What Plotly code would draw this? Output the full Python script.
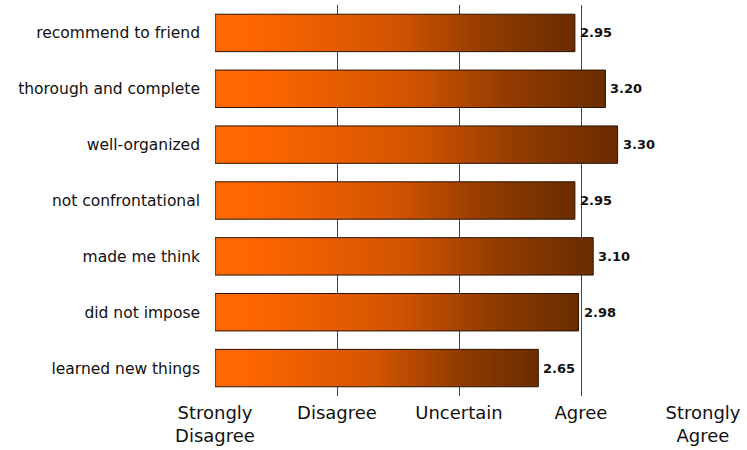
import plotly.graph_objects as go

# Survey items (top to bottom) and their mean ratings on a 0-4 agreement scale
items = [
    "recommend to friend",
    "thorough and complete",
    "well-organized",
    "not confrontational",
    "made me think",
    "did not impose",
    "learned new things",
]
scores = [2.95, 3.20, 3.30, 2.95, 3.10, 2.98, 2.65]
score_labels = ["2.95", "3.20", "3.30", "2.95", "3.10", "2.98", "2.65"]

scale_vals = [0, 1, 2, 3, 4]
scale_text = ["Strongly<br>Disagree", "Disagree", "Uncertain", "Agree", "Strongly<br>Agree"]

BAR_HALF = 0.335
label_font = "DejaVu Sans"

fig = go.Figure()

n = len(items)
ypos = [n - 1 - i for i in range(n)]

# Each bar is a filled rectangle with a horizontal orange-to-brown gradient
for y, s in zip(ypos, scores):
    fig.add_trace(go.Scatter(
        x=[0, s, s, 0, 0],
        y=[y - BAR_HALF, y - BAR_HALF, y + BAR_HALF, y + BAR_HALF, y - BAR_HALF],
        mode="lines",
        fill="toself",
        fillgradient=dict(
            type="horizontal",
            colorscale=[
                [0, "#FF6A00"], [0.1, "#FF6600"], [0.5, "#D25400"],
                [0.75, "#923C00"], [1, "#6A2C00"],
            ],
        ),
        line=dict(color="#2a1400", width=1),
        hoverinfo="skip",
        showlegend=False,
    ))

# Value labels to the right of each bar
for y, s, lab in zip(ypos, scores, score_labels):
    fig.add_annotation(
        x=s, y=y, text=lab, showarrow=False,
        xanchor="left", yanchor="middle", xshift=3,
        font=dict(family=label_font, size=13, color="#111111", weight="bold"),
    )

fig.update_layout(
    width=747,
    height=450,
    margin=dict(l=215, r=44, t=5, b=54),
    paper_bgcolor="white",
    plot_bgcolor="white",
    font=dict(family=label_font, color="#111111"),
    xaxis=dict(
        range=[0, 4],
        tickvals=scale_vals,
        ticktext=scale_text,
        showgrid=True,
        gridcolor="#444444",
        gridwidth=1,
        zeroline=False,
        showline=False,
        ticks="",
        ticklabelstandoff=4,
        tickfont=dict(family=label_font, size=18, color="#111111"),
        automargin=False,
        fixedrange=True,
    ),
    yaxis=dict(
        range=[-0.5, n - 0.5],
        tickvals=ypos,
        ticktext=items,
        showgrid=False,
        zeroline=False,
        showline=False,
        ticks="",
        ticklabelstandoff=14,
        tickfont=dict(family=label_font, size=15.5, color="#111111"),
        automargin=False,
        fixedrange=True,
    ),
)

fig.write_html("out.html")
